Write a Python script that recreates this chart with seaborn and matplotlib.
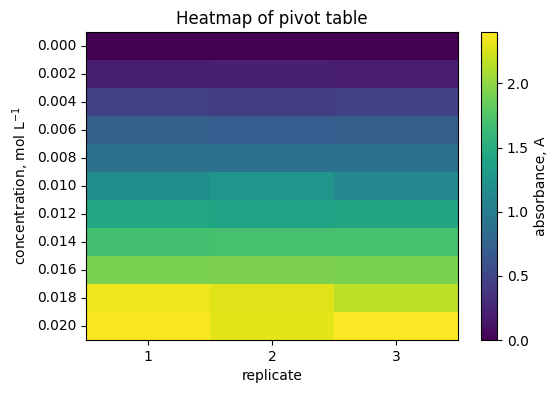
import numpy as np
import pandas as pd
import matplotlib
matplotlib.use("Agg")
import matplotlib.pyplot as plt
import seaborn as sns

concentrations = [0.000, 0.002, 0.004, 0.006, 0.008, 0.010, 0.012, 0.014, 0.016, 0.018, 0.020]
replicates = [1, 2, 3]
rep1 = [0.00, 0.20, 0.45, 0.72, 0.89, 1.17, 1.43, 1.68, 1.92, 2.35, 2.38]
rep2 = [0.00, 0.21, 0.43, 0.70, 0.88, 1.25, 1.40, 1.69, 1.93, 2.28, 2.30]
rep3 = [0.00, 0.19, 0.46, 0.71, 0.90, 1.13, 1.41, 1.69, 1.92, 2.16, 2.40]
ytick_labels = ["%.3f" % c for c in concentrations]

pivot = pd.DataFrame({1: rep1, 2: rep2, 3: rep3}, index=concentrations)

fig = plt.figure(figsize=(5.57, 3.93), dpi=100)
ax = fig.add_axes([86/557, 53/393, 372/557, 308/393])
cax = fig.add_axes([481/557, 53/393, 16/557, 308/393])

sns.heatmap(pivot, ax=ax, cbar_ax=cax, cmap="viridis",
            xticklabels=replicates, yticklabels=ytick_labels,
            cbar_kws={"label": "absorbance, A"})

for s in ax.spines.values():
    s.set_visible(True)
    s.set_linewidth(0.8)
    s.set_color("black")
cb = ax.collections[0].colorbar
cb.outline.set_linewidth(0.8)
cb.outline.set_edgecolor("black")
cb.set_ticks([0.0, 0.5, 1.0, 1.5, 2.0])
cb.set_ticklabels(["0.0", "0.5", "1.0", "1.5", "2.0"])

ax.tick_params(axis="y", rotation=0)
ax.tick_params(axis="x", rotation=0)
ax.set_title("Heatmap of pivot table")
ax.set_xlabel("replicate")
ax.set_ylabel("concentration, mol L$^{-1}$")

fig.savefig("out.png", dpi=100)
